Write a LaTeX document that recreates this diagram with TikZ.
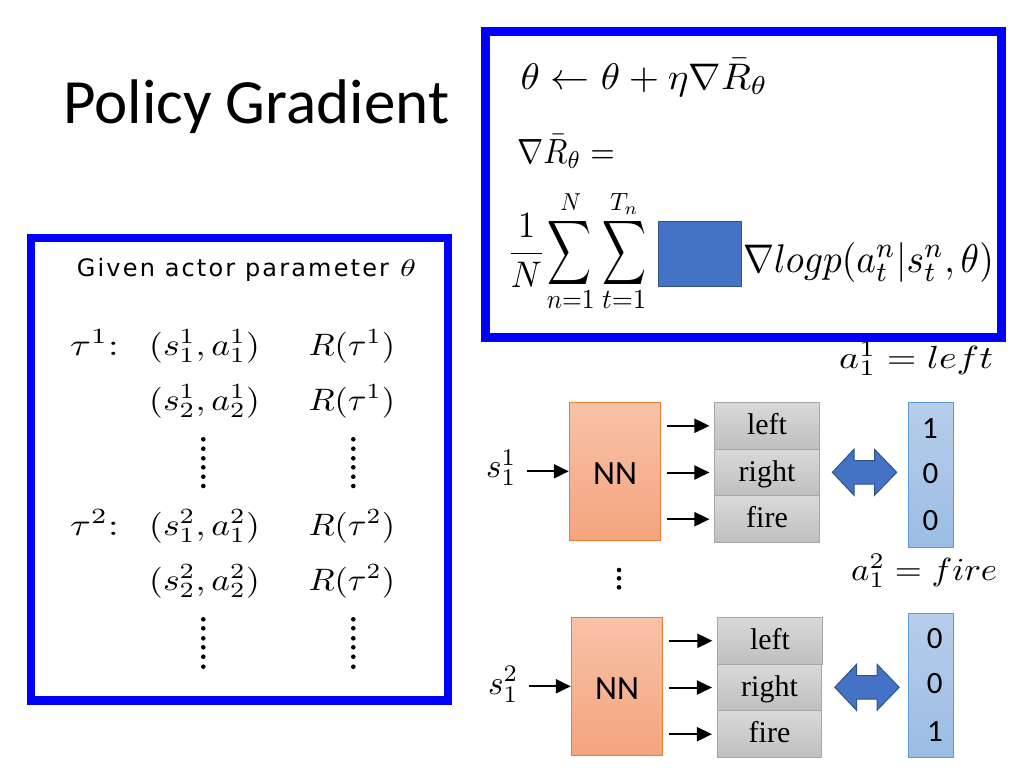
\documentclass[tikz,border=0pt]{standalone}
\usepackage{graphicx}
\usepackage{fontspec}
\newfontfamily\carlito{Carlito}
\newfontfamily\timesf{Liberation Serif}
\newfontfamily\givenf[LetterSpace=9]{DejaVu Sans}
\usetikzlibrary{arrows.meta}
\definecolor{frameblue}{RGB}{0,0,255}
\definecolor{nnedge}{RGB}{237,125,49}
\definecolor{nntop}{RGB}{248,194,168}
\definecolor{nnbot}{RGB}{244,164,126}
\definecolor{optedge}{RGB}{166,166,166}
\definecolor{opttop}{RGB}{217,217,217}
\definecolor{optbot}{RGB}{191,191,191}
\definecolor{vecedge}{RGB}{91,155,213}
\definecolor{vectop}{RGB}{183,205,235}
\definecolor{vecbot}{RGB}{155,189,228}
\definecolor{arrblue}{RGB}{68,114,196}
\definecolor{arrbord}{RGB}{47,82,143}
\newcommand\sbx[3]{\scalebox{#1}[#2]{$#3$}}
\tikzset{
  nnbox/.style={draw=nnedge, line width=1pt, top color=nntop, bottom color=nnbot,
    minimum width=91.4pt, minimum height=138pt, inner sep=0pt,
    text height=27pt, text depth=0pt, font=\carlito\fontsize{34}{38}\selectfont},
  optbox/.style={draw=optedge, line width=1pt, top color=opttop, bottom color=optbot,
    minimum width=104.5pt, minimum height=46.7pt, inner sep=0pt,
    text height=19pt, text depth=2pt, font=\timesf\fontsize{30}{33}\selectfont},
  vecbox/.style={draw=vecedge, line width=1pt, top color=vectop, bottom color=vecbot,
    minimum width=45pt, minimum height=145pt, inner sep=0pt},
  num/.style={inner sep=0pt, font=\carlito\fontsize{31}{34}\selectfont},
  arr/.style={line width=2pt, -{Triangle[length=15pt,width=14pt]}},
  frame/.style={draw=frameblue, line width=8.5pt},
  mth/.style={inner sep=0pt, anchor=base west},
  ctr/.style={inner sep=0pt},
  dblarrow/.pic={\draw[fill=arrblue, draw=arrbord, line width=1pt]
    (-32.2,0) -- (-10.5,-23) -- (-10.5,-11.8) -- (10,-11.8) -- (10,-23) -- (32.2,0)
    -- (10,23) -- (10,11.8) -- (-10.5,11.8) -- (-10.5,23) -- cycle;}
}
\begin{document}
\begin{tikzpicture}[x=1pt,y=-1pt]
\useasboundingbox (0,0) rectangle (1021,774);
\fill[white] (0,0) rectangle (1021,774);

% title
\node[mth, font=\carlito\fontsize{63}{70}\selectfont] (title) at (63,123.3) {Policy Gradient};

% top right box
\draw[frame] (485.3,31.3) rectangle (1001.7,337.7);
\node[mth] (eq1) at (520.5,89) {\sbx{3.9}{3.7}{\theta\leftarrow\theta+\eta\nabla\bar{R}_\theta}};
\node[mth] (eq2) at (517,163) {\sbx{3.15}{3.5}{\nabla\bar{R}_\theta =}};
\node[inner sep=0pt, anchor=base] (frac) at (526.5,262.5) {\sbx{3.4}{3.7}{\displaystyle\frac{1}{N}}};
\node[ctr] (sum1) at (570,253.3) {\sbx{3.05}{4.5}{\displaystyle\sum}};
\node[ctr] (sum2) at (625,253.3) {\sbx{3.05}{4.5}{\displaystyle\sum}};
\node[ctr] (lim1t) at (570.8,201.7) {\sbx{2.28}{2.45}{N}};
\node[ctr] (lim2t) at (624.2,204) {\sbx{2.5}{2.5}{T_n}};
\node[ctr] (lim1b) at (570.8,300) {\sbx{2.55}{2.75}{n{=}1}};
\node[ctr] (lim2b) at (624.2,300) {\sbx{2.7}{2.75}{t{=}1}};
\node[draw=arrbord, fill=arrblue, line width=0.8pt, minimum width=83.4pt, minimum height=65.7pt, inner sep=0pt] (mask) at (700,253.85) {};
\node[mth] (grad) at (743,272) {\sbx{3.72}{4.0}{\nabla log p(a_t^n|s_t^n,\theta)}};

% left box
\draw[frame] (30.8,237.8) rectangle (447.8,700.5);
\node[mth, font=\givenf\fontsize{24}{28}\selectfont] (given) at (76.7,276.7) {Given actor parameter};
\node[mth] (giventh) at (400,276.7) {\sbx{3.2}{2.4}{\theta}};
\node[mth] (t1) at (70,355) {\sbx{3.8}{3.1}{\tau^1{:}}};
\node[mth] (p11) at (149,355) {\sbx{3.55}{3.1}{(s_1^1,a_1^1)}};
\node[mth] (r11) at (308.3,355) {\sbx{3.4}{3.1}{R(\tau^1)}};
\node[mth] (p12) at (149,410) {\sbx{3.55}{3.1}{(s_2^1,a_2^1)}};
\node[mth] (r12) at (308.3,410) {\sbx{3.4}{3.1}{R(\tau^1)}};
\node[mth] (t2) at (70,535) {\sbx{3.8}{3.1}{\tau^2{:}}};
\node[mth] (p21) at (149,535) {\sbx{3.55}{3.1}{(s_1^2,a_1^2)}};
\node[mth] (r21) at (308.3,535) {\sbx{3.4}{3.1}{R(\tau^2)}};
\node[mth] (p22) at (149,590) {\sbx{3.55}{3.1}{(s_2^2,a_2^2)}};
\node[mth] (r22) at (308.3,590) {\sbx{3.4}{3.1}{R(\tau^2)}};
\foreach \y in {439.3,448.7,458.3,467.3,476.7,486,619.3,628.3,638.3,647.3,656.7,666.7}{
  \fill (203.3,\y) circle (2.3pt);
  \fill (353.3,\y) circle (2.3pt);
}

% right lower part
\node[mth] (a11) at (839,368) {\sbx{3.8}{3.2}{a_1^1 = left}};
\node[mth] (a12) at (851,580) {\sbx{3.48}{3.2}{a_1^2 = fire}};
\foreach \y in {570,578.3,587.3}{\fill (619,\y) circle (2.3pt);}

\node[nnbox] (nn1) at (615,471.3) {NN};
\node[nnbox] (nn2) at (617,686.3) {NN};
\node[mth] (s1) at (486,477.5) {\sbx{3.3}{3.4}{s_1^1}};
\node[mth] (s2) at (488,694) {\sbx{3.3}{3.4}{s_1^2}};
\draw[arr, shorten <=10pt] (s1.east |- nn1.west) -- (nn1.west);
\draw[arr, shorten <=10pt] (s2.east |- nn2.west) -- (nn2.west);

\node[optbox] (l1) at (767,425.8) {left};
\node[optbox] (r1) at (767,472.5) {right};
\node[optbox] (f1) at (767,519.2) {fire};
\node[optbox] (l2) at (770,640.8) {left};
\node[optbox] (r2) at (769.5,687.5) {right};
\node[optbox] (f2) at (769.5,734.2) {fire};
\foreach \o in {l1,r1,f1}{\draw[arr, shorten <=5.3pt, shorten >=4.8pt] (nn1.east |- \o.west) -- (\o.west);}
\foreach \o in {l2,r2,f2}{\draw[arr, shorten <=5.3pt, shorten >=4.8pt] (nn2.east |- \o.west) -- (\o.west);}

\pic at (864.5,472.3) {dblarrow};
\pic at (867,687.3) {dblarrow};

\node[vecbox] (v1) at (930.8,474.8) {};
\node[vecbox, minimum height=144pt] (v2) at (930.8,685.3) {};
\node[num] (v1a) at (930,428.3) {1};
\node[num] (v1b) at (930.5,473.3) {0};
\node[num] (v1c) at (930.5,520.8) {0};
\node[num] (v2a) at (934.7,639) {0};
\node[num] (v2b) at (934.7,683.8) {0};
\node[num] (v2c) at (935,732) {1};
\end{tikzpicture}
\end{document}
